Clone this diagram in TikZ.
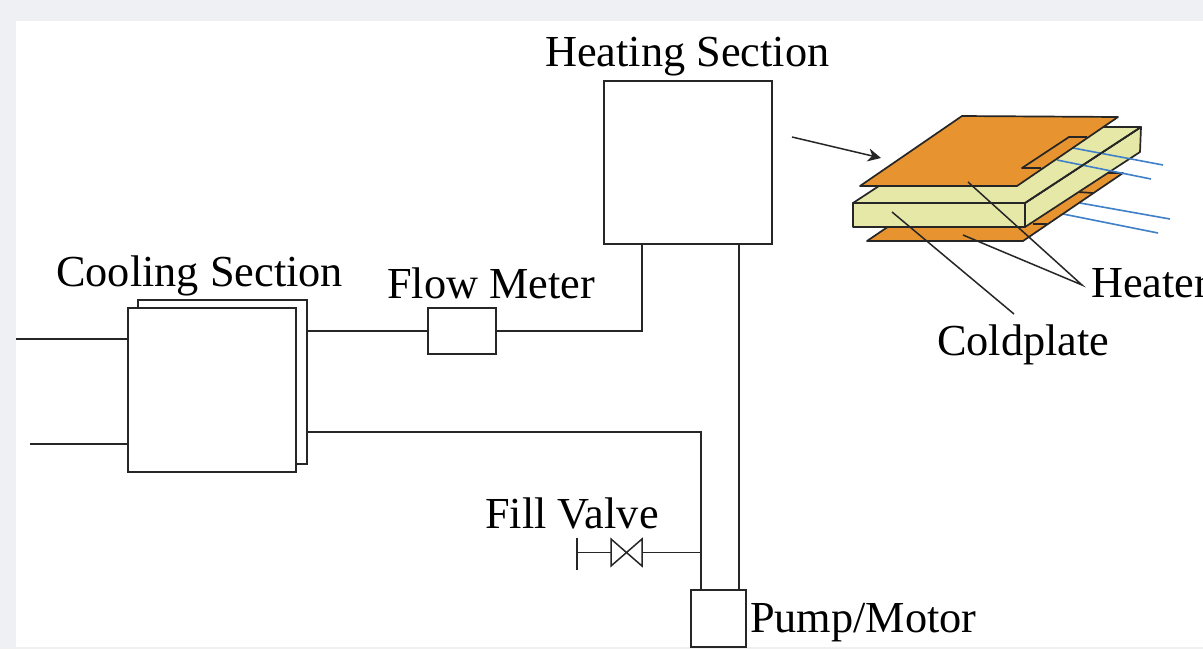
\documentclass[tikz,border=0pt]{standalone}
\usepackage{fontspec}
\setmainfont{Liberation Serif}
\usetikzlibrary{arrows.meta}
\definecolor{plateorange}{HTML}{E69330}
\definecolor{blockyellow}{HTML}{E6E8A8}
\definecolor{wireblue}{HTML}{4080C8}
\definecolor{pagegray}{HTML}{EFF0F4}
\tikzset{
	pipe/.style={line width=1.5pt, black!85},
	unit/.style={draw, pipe, fill=white, inner sep=0pt, outer sep=0pt},
	label/.style={inner sep=0pt, anchor=base west, font=\fontsize{44.3}{44.3}\selectfont},
	plate/.style={draw, line width=1.7pt, black!85, line join=round, fill=plateorange},
	block/.style={draw, line width=1.7pt, black!85, line join=round, fill=blockyellow},
	wire/.style={line width=1.6pt, wireblue},
}
\begin{document}
\begin{tikzpicture}[x=1pt, y=-1pt]
		\clip (0,0) rectangle (1203,649);
		\fill[pagegray] (0,0) rectangle (1203,649);
		\fill[white] (16,21) rectangle (1203,647);
		% boxes
		\node[unit, minimum width=168pt, minimum height=163pt] (heating) at (688,162.5) {};
		\node[unit, minimum width=169pt, minimum height=164pt] (coolingback) at (222.5,382) {};
		\node[unit, minimum width=168pt, minimum height=164pt] (cooling) at (212,390) {};
		\node[unit, minimum width=68pt, minimum height=46pt] (flow) at (462,331) {};
		\node[unit, minimum width=55pt, minimum height=57pt] (pump) at (718.5,618.5) {};
		\node[inner sep=0pt, outer sep=0pt, minimum width=31pt, minimum height=27pt] (valve) at (626.5,552.5) {};
		\draw[pipe] (valve.south west) -- (valve.north east) -- (valve.south east) -- (valve.north west) -- cycle;
		% free ends and bends
		\coordinate (inleft) at (16,339);
		\coordinate (outleft) at (30,444);
		\coordinate (flowbend) at (642,331);
		\coordinate (heatout) at (739,244);
		\coordinate (pumpout) at (739,590);
		\coordinate (returnbend) at (701,432);
		\coordinate (pumpin) at (701,590);
		\coordinate (fillend) at (577,552.5);
		\coordinate (filljoin) at (701,552.5);
		\coordinate (filltop) at (577,538);
		\coordinate (fillbot) at (577,570);
		\coordinate (heatertip) at (1082,285);
		\coordinate (coldtip) at (1014,314);
		\coordinate (toptip) at (968,182);
		\coordinate (bottomtip) at (963,235);
		\coordinate (coldstart) at (892,212);
		\coordinate (arrowstart) at (792,137);
		\coordinate (arrowend) at (881,158);
		% pipes
		\draw[pipe] (inleft) -- (inleft -| cooling.west);
		\draw[pipe] (outleft) -- (outleft -| cooling.west);
		\draw[pipe] (flow.west) -- (flow.west -| coolingback.east);
		\draw[pipe] (flow.east) -- (flowbend) -- (flowbend |- heating.south);
		\draw[pipe] (heatout) -- (pumpout);
		\draw[pipe] (returnbend -| coolingback.east) -- (returnbend) -- (pumpin);
		\draw[pipe] (fillend) -- (valve.west);
		\draw[pipe] (valve.east) -- (filljoin);
		\draw[pipe] (filltop) -- (fillbot);
		% coldplate with heaters
		\draw[wire] (1063,214) -- (1158,233);
		\draw[wire] (1080,203) -- (1170,219);
		\draw[plate] (867,241) -- (1023,241) -- (1123,173) -- (967,173) -- cycle;
		\draw[plate] (1033,224) -- (1047,224);
		\draw[plate] (1078,192) -- (1093,193);
		\draw[block] (853,203) rectangle (1025,227);
		\draw[block] (1025,203) -- (1141,127) -- (1140,152) -- (1025,227) -- cycle;
		\draw[block] (853,203) -- (1025,203) -- (1141,127) -- (969,127) -- cycle;
		\draw[wire] (1057,160) -- (1151,179);
		\draw[wire] (1073,148) -- (1163,165);
		\draw[line width=1.7pt, black!85] (1025,203) -- (1141,127);
		\draw[plate] (860,186) -- (1017,186) -- (1118,117) -- (962,116) -- cycle;
		\draw[line width=1.7pt, black!85, line join=round] (1041,168) -- (1022,168) -- (1069,137) -- (1087,137);
		% leaders
		\draw[pipe] (toptip) -- (heatertip) -- (bottomtip);
		\draw[pipe] (coldstart) -- (coldtip);
		\draw[pipe, -{Stealth[length=13pt, width=13pt, inset=4pt]}] (arrowstart) -- (arrowend);
		% labels
		\node[label] (heatinglabel) at (545,66) {Heating Section};
		\node[label] (coolinglabel) at (56,286) {Cooling Section};
		\node[label] (flowlabel) at (387,298) {Flow Meter};
		\node[label] (filllabel) at (485,528) {Fill Valve};
		\node[label] (pumplabel) at (750,632) {Pump/Motor};
		\node[label] (heaterlabel) at (1091,297) {Heater};
		\node[label] (coldlabel) at (937,355) {Coldplate};
\end{tikzpicture}
\end{document}
